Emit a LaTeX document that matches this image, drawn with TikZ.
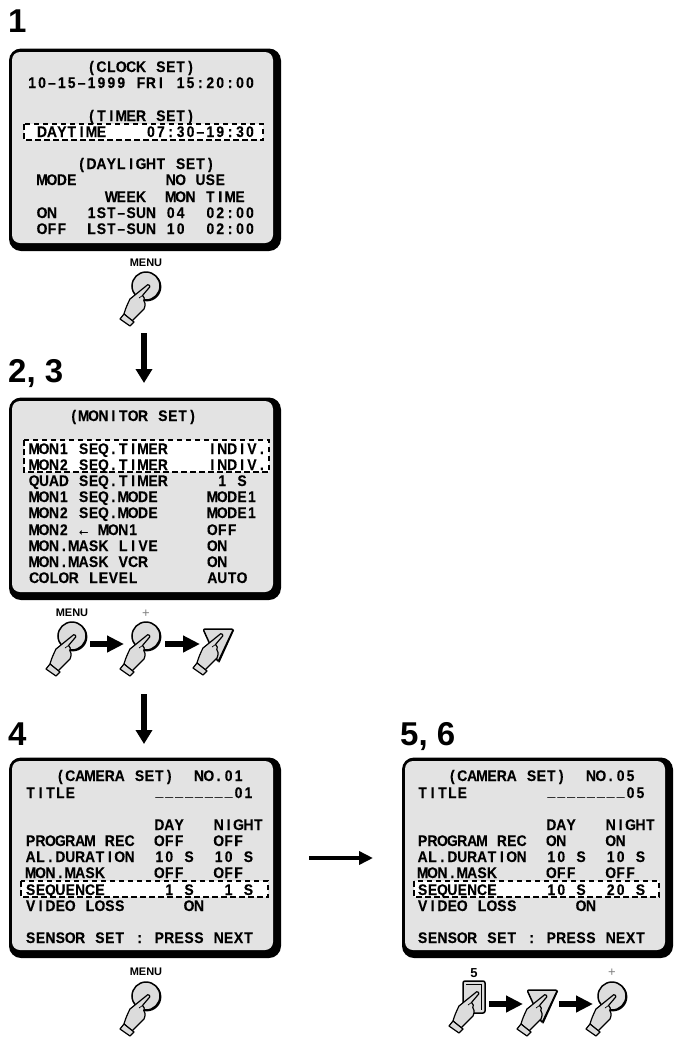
\documentclass[tikz,border=0pt]{standalone}
\usepackage{fontspec}
\usetikzlibrary{arrows.meta}
\setmainfont{Liberation Sans}
\newfontfamily\scrfont{Liberation Sans}[FakeStretch=0.9,BoldFeatures={FakeBold=0.25}]
\definecolor{facegrey}{HTML}{E3E3E3}
\definecolor{handgrey}{HTML}{DCDCDC}
\newlength\cellw \setlength\cellw{9.9pt}
\def\dsh{\raisebox{2pt}{\_}}
\def\hyp{-}
\makeatletter
\newcommand\cells[1]{\@tfor\cc:=#1\do{\hbox to \cellw{\hss\ifx\cc\hyp\textendash\else\cc\fi\hss}}}
\makeatother
\newcount\tcnt
\newcommand\gt[3]{\global\advance\tcnt by 1
  \node[gridtext] (t\the\tcnt) at ({\xz+#1*9.9},#2) {\cells{#3}};}
\tikzset{
  gridtext/.style={anchor=base west,inner sep=0pt,font=\scrfont\bfseries\fontsize{15.4}{16}\selectfont},
  facebox/.style={fill=facegrey,draw=none,rounded corners=8pt},
  shadowbox/.style={fill=black,rounded corners=12pt},
  hilite/.style={fill=white,draw=black,line width=1.2pt,dash pattern=on 5.5pt off 3.5pt},
  handshape/.style={fill=handgrey,draw=black,line width=1.2pt,line join=round},
  btn/.style={fill=handgrey,draw=black,line width=1.5pt},
  btnlabel/.style={inner sep=0pt,font=\bfseries\fontsize{11}{11}\selectfont},
  pluslabel/.style={inner sep=0pt,text=gray,font=\fontsize{13}{13}\selectfont},
  stepnum/.style={anchor=base west,inner sep=0pt,font=\bfseries\fontsize{33}{33}\selectfont},
  smallarrow/.style={line width=6pt,-{Triangle[length=17pt,width=16pt]}},
  bigarrow/.style={line width=6.5pt,-{Triangle[length=14pt,width=16pt]}},
  longarrow/.style={line width=4pt,-{Triangle[length=14pt,width=13pt]}},
}
\newcommand\screen[4]{%
  \fill[shadowbox] (#1-3,#2-3.5) rectangle (#3+8,#4+8);
  \fill[facebox] (#1,#2) rectangle (#3,#4);}
\newcommand\handshp{%
  \draw[handshape] (1.7,-1.3) .. controls (3.2,-1.6) and (4.4,0) .. (3.7,1)
    -- (-3.5,9.5) .. controls (-1.5,11) and (-1.2,13) .. (-2.2,14.5)
    .. controls (-0.5,16) and (-0.4,19) .. (-2,23) -- (-14,35)
    -- (-22,28) .. controls (-21,24) and (-19,19) .. (-16,13) -- cycle;
  \draw[handshape] (-26,33) -- (-22,28) -- (-12,36) -- (-16,40) -- cycle;
  \draw[line width=0.7pt] (-3.5,9.5) -- (-7,12);}
\newcommand\circlebtn[3]{% name x y
  \begin{scope}[shift={(#2,#3)}]
  \fill[black] (0.8,0.8) circle (14.6pt);
  \node[btn,circle,minimum size=28pt,inner sep=0pt] (#1) at (0,0) {};
  \handshp
  \end{scope}}
\newcommand\tribtn[3]{%
  \begin{scope}[shift={(#2,#3)}]
  \coordinate (#1) at (0,0);
  \draw[btn,line join=round,rounded corners=2pt] (-16,-6) -- (14.5,-6) -- (-1,27) -- cycle;
  \draw[line width=1.3pt,line cap=round] (14.5,-5) -- (0,27);
  \handshp
  \end{scope}}
\newcommand\rectbtn[3]{%
  \begin{scope}[shift={(#2,#3)}]
  \coordinate (#1) at (0,0);
  \draw[btn,rounded corners=2pt] (-12,-12) rectangle (10,20);
  \draw[line width=0.7pt] (-9,-9) -- (6.5,-9) -- (6.5,17);
  \handshp
  \end{scope}}
\begin{document}
\begin{tikzpicture}[x=1pt,y=-1pt]
\useasboundingbox[fill=white] (0,0) rectangle (673,1042);

% step numbers
\node[stepnum] (n1) at (8,32) {1};
\node[stepnum] (n2) at (8,382) {2, 3};
\node[stepnum] (n3) at (8,745) {4};
\node[stepnum] (n4) at (400,745) {5, 6};

% screen 1
\screen{12}{52}{273}{243}
\draw[hilite] (24,124) rectangle (263,140);
\def\xz{27}
\gt{6}{72}{(CLOCK~SET)}
\gt{0}{88}{10-15-1999~FRI~15:20:00}
\gt{6}{121}{(TIMER~SET)}
\gt{1}{137}{DAYTIME}
\gt{12}{137}{07:30-19:30}
\gt{5}{169}{(DAYLIGHT~SET)}
\gt{1}{185}{MODE}
\gt{14}{185}{NO~USE}
\gt{8}{202}{WEEK}
\gt{14}{202}{MON}
\gt{18}{202}{TIME}
\gt{1}{218}{ON}
\gt{6}{218}{1ST-SUN}
\gt{14}{218}{04}
\gt{18}{218}{02:00}
\gt{1}{234}{OFF}
\gt{6}{234}{LST-SUN}
\gt{14}{234}{10}
\gt{18}{234}{02:00}

\node[btnlabel] (m1) at (146,263) {MENU};
\circlebtn{b1}{146}{286}

\coordinate (a1s) at (144,333);
\coordinate (a1e) at (144,383);
\draw[bigarrow] (a1s) -- (a1e);

% screen 2
\screen{12}{401}{273}{592}
\draw[hilite] (24,440) rectangle (269,472);
\def\xz{29}
\gt{4}{421}{(MONITOR~SET)}
\gt{0}{454}{MON1~SEQ.TIMER}
\gt{18}{454}{INDIV.}
\gt{0}{470}{MON2~SEQ.TIMER}
\gt{18}{470}{INDIV.}
\gt{0}{486}{QUAD~SEQ.TIMER}
\gt{19}{486}{1~S}
\gt{0}{502}{MON1~SEQ.MODE}
\gt{18}{502}{MODE1}
\gt{0}{518}{MON2~SEQ.MODE}
\gt{18}{518}{MODE1}
\gt{0}{535}{MON2~{←}~MON1}
\gt{18}{535}{OFF}
\gt{0}{551}{MON.MASK~LIVE}
\gt{18}{551}{ON}
\gt{0}{567}{MON.MASK~VCR}
\gt{18}{567}{ON}
\gt{0}{583}{COLOR~LEVEL}
\gt{18}{583}{AUTO}

\node[btnlabel] (m2) at (72,613) {MENU};
\circlebtn{b2}{72}{636}
\node[pluslabel] (p1) at (146,614) {+};
\circlebtn{b3}{146}{636}
\tribtn{b4}{219}{635}
\coordinate (a2s) at (90,644);
\coordinate (a2e) at (124,644);
\coordinate (a3s) at (165,644);
\coordinate (a3e) at (200,644);
\draw[smallarrow] (a2s) -- (a2e);
\draw[smallarrow] (a3s) -- (a3e);

\coordinate (a4s) at (144,694);
\coordinate (a4e) at (144,744);
\draw[bigarrow] (a4s) -- (a4e);

% screen 3
\screen{12}{761}{273}{950}
\draw[hilite] (21,881) rectangle (268,897);
\def\xz{25.5}
\gt{3}{781}{(CAMERA~SET)}
\gt{17}{781}{NO.01}
\gt{0}{798}{TITLE}
\gt{13}{798}{\dsh\dsh\dsh\dsh\dsh\dsh\dsh\dsh 01}
\gt{13}{830}{DAY}
\gt{19}{830}{NIGHT}
\gt{0}{846}{PROGRAM~REC}
\gt{13}{846}{OFF}
\gt{19}{846}{OFF}
\gt{0}{862}{AL.DURATION}
\gt{13}{862}{10~S}
\gt{19}{862}{10~S}
\gt{0}{878}{MON.MASK}
\gt{13}{878}{OFF}
\gt{19}{878}{OFF}
\gt{0}{895}{SEQUENCE}
\gt{14}{895}{1~S}
\gt{20}{895}{1~S}
\gt{0}{911}{VIDEO~LOSS}
\gt{16}{911}{ON}
\gt{0}{943}{SENSOR~SET~:~PRESS~NEXT}

\node[btnlabel] (m3) at (146,972) {MENU};
\circlebtn{b5}{146}{996}

\coordinate (a5s) at (309,858);
\coordinate (a5e) at (373,858);
\draw[longarrow] (a5s) -- (a5e);

% screen 4
\screen{405}{761}{665}{950}
\draw[hilite] (414,881) rectangle (659,897);
\def\xz{417.5}
\gt{3}{781}{(CAMERA~SET)}
\gt{17}{781}{NO.05}
\gt{0}{798}{TITLE}
\gt{13}{798}{\dsh\dsh\dsh\dsh\dsh\dsh\dsh\dsh 05}
\gt{13}{830}{DAY}
\gt{19}{830}{NIGHT}
\gt{0}{846}{PROGRAM~REC}
\gt{13}{846}{ON}
\gt{19}{846}{ON}
\gt{0}{862}{AL.DURATION}
\gt{13}{862}{10~S}
\gt{19}{862}{10~S}
\gt{0}{878}{MON.MASK}
\gt{13}{878}{OFF}
\gt{19}{878}{OFF}
\gt{0}{895}{SEQUENCE}
\gt{13}{895}{10~S}
\gt{19}{895}{20~S}
\gt{0}{911}{VIDEO~LOSS}
\gt{16}{911}{ON}
\gt{0}{943}{SENSOR~SET~:~PRESS~NEXT}

\node[btnlabel,font=\bfseries\fontsize{13}{13}\selectfont] (m4) at (474,973) {5};
\rectbtn{b6}{475}{993}
\tribtn{b7}{543}{996}
\node[pluslabel] (p2) at (612,973) {+};
\circlebtn{b8}{612}{996}
\coordinate (a6s) at (489,1004);
\coordinate (a6e) at (523,1004);
\coordinate (a7s) at (559,1004);
\coordinate (a7e) at (593,1004);
\draw[smallarrow] (a6s) -- (a6e);
\draw[smallarrow] (a7s) -- (a7e);
\end{tikzpicture}
\end{document}
